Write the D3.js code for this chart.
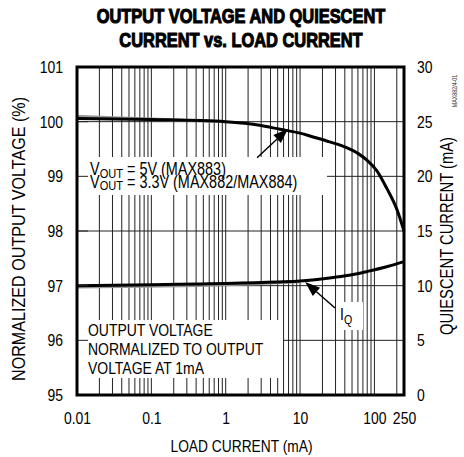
<!DOCTYPE html>
<html>
<head>
<meta charset="utf-8">
<script src="https://cdn.jsdelivr.net/npm/d3@7"></script>
<style>
  body { margin: 0; background: #fff; }
  svg { display: block; }
  text { font-family: 'Liberation Sans', Arial, sans-serif; }
</style>
</head>
<body>
<div id="root"></div>
<script>
const xTickValues = [0.01, 0.1, 1, 10, 100, 250];
const xTickLabels = ['0.01', '0.1', '1', '10', '100', '250'];
const leftTicks = [95, 96, 97, 98, 99, 100, 101];
const rightTicks = [0, 5, 10, 15, 20, 25, 30];

// output voltage (%) vs load current (mA)
const voutCurrent = [0.01, 0.1, 1, 3, 5.4, 10, 15, 25, 43, 60, 80, 108, 148, 200, 250];
const voutPercent = [100.06, 100.04, 100.0, 99.93, 99.86, 99.79, 99.72, 99.63, 99.52, 99.42, 99.29, 99.1, 98.77, 98.4, 98.0];
const vout2Current = [0.01, 0.03, 0.1, 1];
const vout2Percent = [100.1, 100.07, 100.05, 100.0];

// quiescent current (mA) vs load current (mA)
const iqCurrent = [0.01, 0.1, 0.45, 1, 5, 10, 28, 50, 80, 150, 250];
const iqValues = [10.0, 10.08, 10.16, 10.2, 10.33, 10.42, 10.75, 11.0, 11.3, 11.75, 12.2];
const iq2Current = [0.01, 1, 10];
const iq2Values = [9.88, 10.08, 10.36];

const width = 464;
const height = 457;
const margin = { top: 67, right: 60, bottom: 62, left: 77 };
const chartWidth = width - margin.left - margin.right;
const chartHeight = height - margin.top - margin.bottom;
const narrow = 0.82;

const xScale = d3.scaleLog().domain([0.01, 250]).range([0, chartWidth]);
const yScale = d3.scaleLinear().domain([95, 101]).range([chartHeight, 0]);
const yScaleR = d3.scaleLinear().domain([0, 30]).range([chartHeight, 0]);

// squeeze plain text elements horizontally (no narrow font installed)
function condense(sel, target) {
  sel.each(function () {
    const w = this.getComputedTextLength();
    d3.select(this)
      .attr('textLength', target || w * narrow)
      .attr('lengthAdjust', 'spacingAndGlyphs');
  });
}

const svg = d3.select('#root').append('svg')
  .attr('width', width)
  .attr('height', height);

svg.append('rect').attr('width', width).attr('height', height).attr('fill', '#fff');

const titleLines = ['OUTPUT VOLTAGE AND QUIESCENT', 'CURRENT vs. LOAD CURRENT'];
svg.selectAll('.title')
  .data(titleLines)
  .enter()
  .append('text')
  .attr('class', 'title')
  .attr('x', 241)
  .attr('y', (d, i) => 23 + i * 24)
  .attr('text-anchor', 'middle')
  .attr('font-size', 20)
  .attr('font-weight', 'bold')
  .attr('stroke', '#000')
  .attr('stroke-width', 1.1)
  .text(d => d)
  .call(condense);

const chart = svg.append('g')
  .attr('transform', `translate(${margin.left}, ${margin.top})`);

// grid
chart.append('g')
  .selectAll('line')
  .data(xScale.ticks().filter(d => d > 0.01))
  .enter()
  .append('line')
  .attr('x1', d => xScale(d))
  .attr('x2', d => xScale(d))
  .attr('y1', 0)
  .attr('y2', chartHeight)
  .attr('stroke', '#222')
  .attr('stroke-width', 1);

chart.append('g')
  .selectAll('line')
  .data(leftTicks.slice(1, -1))
  .enter()
  .append('line')
  .attr('x1', 0)
  .attr('x2', chartWidth)
  .attr('y1', d => yScale(d))
  .attr('y2', d => yScale(d))
  .attr('stroke', '#222')
  .attr('stroke-width', 1);

// curves
const voutLine = d3.line()
  .x(d => xScale(d[0]))
  .y(d => yScale(d[1]))
  .curve(d3.curveMonotoneX);

const iqLine = d3.line()
  .x(d => xScale(d[0]))
  .y(d => yScaleR(d[1]))
  .curve(d3.curveMonotoneX);

const curves = [
  { line: voutLine, data: d3.zip(vout2Current, vout2Percent), color: '#999' },
  { line: iqLine, data: d3.zip(iq2Current, iq2Values), color: '#999' },
  { line: voutLine, data: d3.zip(voutCurrent, voutPercent), color: '#000' },
  { line: iqLine, data: d3.zip(iqCurrent, iqValues), color: '#000' },
];

curves.forEach(c => {
  chart.append('path')
    .datum(c.data)
    .attr('d', c.line)
    .attr('fill', 'none')
    .attr('stroke', c.color)
    .attr('stroke-width', 3);
});

// white boxes behind labels
const boxes = [
  { x: 1, y: 90, w: 249, h: 38 },
  { x: 1, y: 253, w: 205, h: 58 },
  { x: 259, y: 235, w: 27, h: 28 },
];
chart.selectAll('.box')
  .data(boxes)
  .enter()
  .append('rect')
  .attr('class', 'box')
  .attr('x', d => d.x)
  .attr('y', d => d.y)
  .attr('width', d => d.w)
  .attr('height', d => d.h)
  .attr('fill', '#fff');

// inner ticks on the left
chart.append('g')
  .selectAll('line')
  .data(leftTicks.slice(1, -1))
  .enter()
  .append('line')
  .attr('x1', 0)
  .attr('x2', 11)
  .attr('y1', d => yScale(d))
  .attr('y2', d => yScale(d))
  .attr('stroke', '#222')
  .attr('stroke-width', 1);

// annotation labels
const voutLabel = chart.append('g')
  .attr('transform', `translate(13, 108) scale(${narrow}, 1)`)
  .append('text')
  .attr('font-size', 17.6);
[['V', '5V (MAX883)'], ['V', '3.3V (MAX882/MAX884)']].forEach((p, i) => {
  voutLabel.append('tspan').attr('x', 0).attr('dy', i === 0 ? 0 : 12.5).text(p[0]);
  voutLabel.append('tspan').attr('font-size', 13.5).attr('dy', 3).text('OUT');
  voutLabel.append('tspan').attr('dy', -3).text(` = ${p[1]}`);
});

const noteLines = ['OUTPUT VOLTAGE', 'NORMALIZED TO OUTPUT', 'VOLTAGE AT 1mA'];
chart.append('g')
  .selectAll('text')
  .data(noteLines)
  .enter()
  .append('text')
  .attr('font-size', 17)
  .attr('x', 11)
  .attr('y', (d, i) => 269 + i * 19)
  .text(d => d)
  .call(condense);

const iqLabel = chart.append('g')
  .attr('transform', `translate(263, 253) scale(${narrow}, 1)`)
  .append('text')
  .attr('font-size', 17);
iqLabel.append('tspan').text('I');
iqLabel.append('tspan').attr('font-size', 13).attr('dy', 4).text('Q');

// arrows
const arrows = [
  { from: [xScale(2.64), yScale(99.34)], to: [xScale(6.9), yScale(99.87)] },
  { from: [xScale(29.5), yScaleR(7.96)], to: [xScale(11.7), yScaleR(10.34)] },
];
arrows.forEach(a => {
  const [x0, y0] = a.from;
  const [x1, y1] = a.to;
  const ang = Math.atan2(y1 - y0, x1 - x0);
  const len = 15;
  const half = 5.5;
  const bx = x1 - len * Math.cos(ang);
  const by = y1 - len * Math.sin(ang);
  chart.append('line')
    .attr('x1', x0).attr('y1', y0)
    .attr('x2', bx).attr('y2', by)
    .attr('stroke', '#000')
    .attr('stroke-width', 1.5);
  chart.append('path')
    .attr('d', `M${x1},${y1}L${bx - half * Math.sin(ang)},${by + half * Math.cos(ang)}L${bx + half * Math.sin(ang)},${by - half * Math.cos(ang)}Z`)
    .attr('fill', '#000');
});

// frame
chart.append('rect')
  .attr('width', chartWidth)
  .attr('height', chartHeight)
  .attr('fill', 'none')
  .attr('stroke', '#000')
  .attr('stroke-width', 3);

// axes labels
const xAxis = chart.append('g')
  .attr('transform', `translate(0, ${chartHeight})`)
  .call(d3.axisBottom(xScale).tickValues(xTickValues).tickFormat((d, i) => xTickLabels[i]).tickSize(0).tickPadding(17));
const yAxisL = chart.append('g')
  .call(d3.axisLeft(yScale).tickValues(leftTicks).tickFormat(d3.format('d')).tickSize(0).tickPadding(14));
const yAxisR = chart.append('g')
  .attr('transform', `translate(${chartWidth}, 0)`)
  .call(d3.axisRight(yScaleR).tickValues(rightTicks).tickSize(0).tickPadding(13));

[xAxis, yAxisL, yAxisR].forEach(ax => {
  ax.select('.domain').remove();
  ax.attr('font-family', null).attr('font-size', null)
    .selectAll('text')
    .attr('font-size', 17)
    .attr('fill', '#000')
    .call(condense);
});

svg.append('text')
  .attr('x', margin.left + chartWidth / 2 + 1)
  .attr('y', 452)
  .attr('text-anchor', 'middle')
  .attr('font-size', 17)
  .text('LOAD CURRENT (mA)')
  .call(condense, 142);

svg.append('text')
  .attr('transform', `translate(25, ${margin.top + chartHeight / 2 + 8}) rotate(-90)`)
  .attr('text-anchor', 'middle')
  .attr('font-size', 18)
  .text('NORMALIZED OUTPUT VOLTAGE (%)')
  .call(condense, 284);

svg.append('text')
  .attr('transform', `translate(453, ${margin.top + chartHeight / 2 + 5}) rotate(-90)`)
  .attr('text-anchor', 'middle')
  .attr('font-size', 18)
  .text('QUIESCENT CURRENT (mA)')
  .call(condense, 198);

svg.append('text')
  .attr('transform', 'translate(457, 91) rotate(-90)')
  .attr('text-anchor', 'middle')
  .attr('font-size', 6.5)
  .attr('fill', '#333')
  .text('MAX882/4-01')
  .call(condense);
</script>
</body>
</html>
